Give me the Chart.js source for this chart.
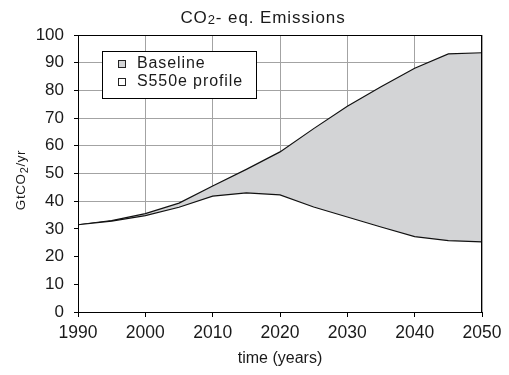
<!DOCTYPE html>
<html>
<head>
    <title>CO2-eq. Emissions</title>
    <script src="https://cdn.jsdelivr.net/npm/chart.js"></script>
    <style>
        html, body { margin: 0; padding: 0; background: #fff; }
        .chart-box { position: relative; width: 509px; height: 375px; }
    </style>
</head>
<body>
    <div class="chart-box">
        <canvas id="myChart"></canvas>
    </div>

    <script>
        // data
        const years = [1990, 1995, 2000, 2005, 2010, 2015, 2020, 2025, 2030, 2035, 2040, 2045, 2050];
        const baseline = [31.5, 33, 35.5, 39.3, 45.5, 51.5, 57.8, 66.2, 74.3, 81.3, 88, 93.2, 93.6];
        const profile = [31.5, 32.8, 34.8, 37.8, 41.8, 43, 42.3, 37.9, 34.3, 30.7, 27.2, 25.8, 25.3];
        const seriesNames = ['Baseline', 'S550e profile'];
        // title pieces: [text, is subscript]
        const titleParts = [['CO', false], ['2', true], ['- eq. Emissions', false]];
        const yTitleParts = [['GtCO', false], ['2', true], ['/yr', false]];

        const FONT = '"Liberation Sans", Arial, sans-serif';
        const textColor = '#1a1a1a';
        const gridColor = '#a3a3a3';
        const fillGray = '#d3d4d6';

        const toPoints = arr => arr.map((v, i) => ({ x: years[i], y: v }));

        // draws text with a small lowered "2", centred on (0,0) of current transform
        function drawParts(ctx, parts, size, subSize, subDrop, spacing) {
            ctx.letterSpacing = spacing + 'px';
            let total = 0;
            const widths = parts.map(([t, sub]) => {
                ctx.font = (sub ? subSize : size) + 'px ' + FONT;
                const w = ctx.measureText(t).width;
                total += w;
                return w;
            });
            let x = -total / 2;
            parts.forEach(([t, sub], i) => {
                ctx.font = (sub ? subSize : size) + 'px ' + FONT;
                ctx.fillText(t, x, sub ? subDrop : 0);
                x += widths[i];
            });
            ctx.letterSpacing = '0px';
        }

        // frame, titles and boxed legend drawn on the canvas
        const extras = {
            id: 'extras',
            afterDatasetsDraw(chart) {
                const ctx = chart.ctx;
                const a = chart.chartArea;
                ctx.save();
                ctx.strokeStyle = '#000';
                ctx.lineWidth = 1;
                ctx.strokeRect(Math.round(a.left) + 0.5, Math.round(a.top) + 0.5,
                    Math.round(a.right - a.left) - 1, Math.round(a.bottom - a.top));

                // legend box
                const lx = Math.round(a.left) + 24.5, ly = Math.round(a.top) + 16.5;
                ctx.fillStyle = '#fff';
                ctx.fillRect(lx, ly, 154, 47);
                ctx.strokeRect(lx, ly, 154, 47);
                ctx.font = '16px ' + FONT;
                ctx.letterSpacing = '0.9px';
                ctx.textBaseline = 'middle';
                const colors = [fillGray, '#fff'];
                seriesNames.forEach((name, i) => {
                    const y = ly + 12 + i * 18;
                    ctx.fillStyle = colors[i];
                    ctx.fillRect(lx + 16, y - 3, 7, 7);
                    ctx.strokeStyle = '#222';
                    ctx.strokeRect(lx + 16, y - 3, 7, 7);
                    ctx.fillStyle = textColor;
                    ctx.fillText(name, lx + 34.5, y);
                });
                ctx.letterSpacing = '0px';

                // chart title
                ctx.fillStyle = textColor;
                ctx.textAlign = 'left';
                ctx.textBaseline = 'alphabetic';
                ctx.save();
                ctx.translate(263, 23);
                drawParts(ctx, titleParts, 17, 13, 1, 0.9);
                ctx.restore();

                // y axis title, rotated
                ctx.save();
                ctx.translate(25, 180);
                ctx.rotate(-Math.PI / 2);
                drawParts(ctx, yTitleParts, 13.5, 11, 3, 0.6);
                ctx.restore();
                ctx.restore();
            }
        };

        const ctx = document.getElementById('myChart').getContext('2d');
        new Chart(ctx, {
            type: 'line',
            data: {
                datasets: [
                    {
                        label: seriesNames[1],
                        data: toPoints(profile),
                        borderColor: '#111',
                        borderWidth: 1.2,
                        backgroundColor: '#fff',
                        fill: 'origin',
                        pointRadius: 0,
                        tension: 0
                    },
                    {
                        label: seriesNames[0],
                        data: toPoints(baseline),
                        borderColor: '#111',
                        borderWidth: 1.2,
                        backgroundColor: fillGray,
                        fill: 'origin',
                        pointRadius: 0,
                        tension: 0
                    }
                ]
            },
            plugins: [extras],
            options: {
                responsive: true,
                maintainAspectRatio: false,
                animation: false,
                layout: { padding: { top: 35, right: 27, left: 0, bottom: 0 } },
                plugins: {
                    legend: { display: false },
                    title: { display: false },
                    tooltip: { enabled: false }
                },
                scales: {
                    x: {
                        type: 'linear',
                        min: 1990,
                        max: 2050,
                        afterFit: s => { s.height = 63; },
                        ticks: {
                            stepSize: 10,
                            callback: v => String(v),
                            color: textColor,
                            padding: 6,
                            maxRotation: 0,
                            font: { size: 17.5, family: FONT }
                        },
                        grid: { color: gridColor, tickColor: '#000', tickLength: 5 },
                        border: { color: '#000' },
                        title: {
                            display: true,
                            text: 'time (years)',
                            color: textColor,
                            padding: { top: 0, bottom: 7 },
                            font: { size: 16, family: FONT }
                        }
                    },
                    y: {
                        min: 0,
                        max: 100,
                        afterFit: s => { s.width = 78; },
                        ticks: {
                            stepSize: 10,
                            color: textColor,
                            padding: 10,
                            font: { size: 17, family: FONT }
                        },
                        grid: { color: gridColor, tickColor: '#000', tickLength: 4 },
                        border: { color: '#000' }
                    }
                }
            }
        });
    </script>
</body>
</html>
